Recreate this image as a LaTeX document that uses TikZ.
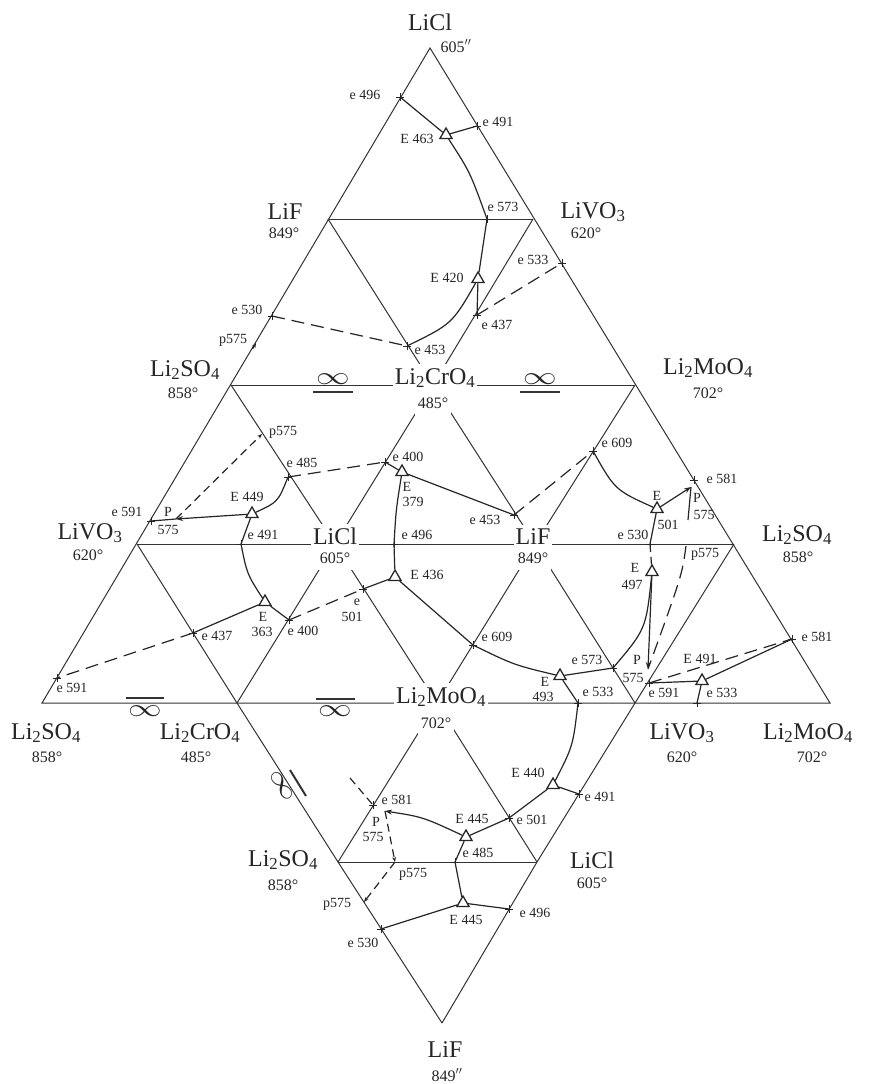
\documentclass[tikz,border=0pt]{standalone}
\usepackage{fontspec}
\setmainfont{Liberation Serif}
\usetikzlibrary{shapes.geometric,arrows.meta}
\newcommand\bigfnt{\fontsize{24}{26}\selectfont}
\newcommand\tmpfnt{\fontsize{16}{18}\selectfont}
\newcommand\smfnt{\fontsize{14}{15}\selectfont}
\newcommand\chs[1]{\textsubscript{#1}}
\begin{document}
\begin{tikzpicture}[x=1pt,y=-1pt,
  gridline/.style={line width=1pt,draw=black!80},
  phline/.style={line width=1.2pt,draw=black!85},
  dashlong/.style={phline,dash pattern=on 13pt off 7pt},
  dashshort/.style={phline,dash pattern=on 8pt off 5pt},
  ptip/.style={-{Stealth[length=7pt,width=5pt]}},
  ptips/.style={-{Stealth[length=5pt,width=4pt]}},
  Etri/.style={draw=black!85,line width=1.3pt,regular polygon,regular polygon sides=3,minimum size=14pt,inner sep=0pt},
  bigl/.style={font=\bigfnt,text=black!85,inner sep=1pt},
  templ/.style={font=\tmpfnt,text=black!85,inner sep=1pt},
  sml/.style={font=\smfnt,text=black!85,inner sep=0.5pt},
  wbgn/.style={fill=white,inner ysep=4pt,inner xsep=2pt},
  wbgt/.style={fill=white,inner ysep=7pt,inner xsep=3pt},
  infsym/.style={font=\fontsize{24}{24}\selectfont,xscale=1.35,inner sep=0pt,text=black!85},
  infbar/.style={line width=2pt,draw=black!80},
  ecross/.pic={\draw[line width=0.9pt,black!85] (-4,0)--(4,0) (0,-4)--(0,4);}
]
\fill[white] (0,0) rectangle (870,1084);
\useasboundingbox (0,0) rectangle (870,1084);

% lattice vertices
\coordinate (A0) at (430,48);
\coordinate (B1) at (328,219); \coordinate (B2) at (533,219);
\coordinate (C1) at (231,385); \coordinate (C2) at (433,385); \coordinate (C3) at (635,385);
\coordinate (D1) at (137,544); \coordinate (D2) at (335,544); \coordinate (D3) at (535,544); \coordinate (D4) at (734,544);
\coordinate (F1) at (42,703); \coordinate (F2) at (237,703); \coordinate (F3) at (437,703); \coordinate (F4) at (635,703); \coordinate (F5) at (830,703);
\coordinate (G1) at (338,862); \coordinate (G2) at (537,862);
\coordinate (H) at (442,1023);

% grid
\draw[gridline] (A0) -- (F1) -- (F5) -- cycle;
\draw[gridline] (B1) -- (B2);
\draw[gridline] (C1) -- (C3);
\draw[gridline] (D1) -- (D4);
\draw[gridline] (G1) -- (G2);
\draw[gridline] (B1) -- (C2) -- (B2);
\draw[gridline] (C1) -- (D2) -- (F3);
\draw[gridline] (C2) -- (D2) -- (F2);
\draw[gridline] (C2) -- (D3) -- (F4);
\draw[gridline] (C3) -- (D3) -- (F3);
\draw[gridline] (D1) -- (F2) -- (G1) -- (H);
\draw[gridline] (D4) -- (F4) -- (G2) -- (H);
\draw[gridline] (F3) -- (G1);
\draw[gridline] (F3) -- (G2);

% immiscibility signs
\node[infsym] (inf1) at (333,379) {$\infty$};
\draw[infbar] (313,392) -- (353,392);
\node[infsym] (inf2) at (540,379) {$\infty$};
\draw[infbar] (520,392) -- (560,392);
\node[infsym] (inf3) at (145,711) {$\infty$};
\draw[infbar] (126,698) -- (164,698);
\node[infsym] (inf4) at (335,711) {$\infty$};
\draw[infbar] (316,699) -- (355,699);
\node[rotate=-57.6,infsym] (inf5) at (282,786) {$\infty$};
\draw[infbar] (290,770) -- (306,796);

% points
\coordinate (eA496) at (400,97);
\coordinate (eA491) at (477,126);
\coordinate (eA573) at (487,219);
\coordinate (eB437) at (477,315);
\coordinate (eB533) at (562,263);
\coordinate (eB530) at (272,316);
\coordinate (eB453) at (407,346);
\coordinate (pB575) at (256,343);
\coordinate (pC575) at (262,434);
\coordinate (eC485) at (288,477);
\coordinate (eC400) at (385,462);
\coordinate (eC591) at (151,521);
\coordinate (PC575) at (176,519);
\coordinate (eC491) at (241,544);
\coordinate (eC496) at (394,544);
\coordinate (eC453) at (514,515);
\coordinate (eC609) at (593,451);
\coordinate (eC581) at (694,480);
\coordinate (PCup) at (691,487);
\coordinate (pDs) at (688,520);
\coordinate (pD575) at (686,546);
\coordinate (eD530) at (650,544);
\coordinate (PDlow) at (648,669);
\coordinate (eD573) at (613,668);
\coordinate (eD591) at (649,683);
\coordinate (eD533a) at (578,703);
\coordinate (eD533b) at (697,703);
\coordinate (eD581) at (792,639);
\coordinate (eD437) at (193,633);
\coordinate (eD591L) at (57,678);
\coordinate (eD400) at (289,620);
\coordinate (eD501) at (363,589);
\coordinate (eD609) at (473,645);
\coordinate (eE581) at (373,805);
\coordinate (PE575) at (385,811);
\coordinate (fE) at (350,778);
\coordinate (pE575a) at (395,862);
\coordinate (pE575b) at (364,902);
\coordinate (eE501) at (509,818);
\coordinate (eE491) at (579,794);
\coordinate (eE485) at (455,862);
\coordinate (eE496) at (509,909);
\coordinate (eE530) at (381,929);

% ternary points
\node[Etri] (E463) at (446,135) {};
\node[Etri] (E420) at (478,279) {};
\node[Etri] (E449) at (252,514) {};
\node[Etri] (E379) at (402,472) {};
\node[Etri] (E436) at (395,577) {};
\node[Etri] (E501) at (657,509) {};
\node[Etri] (E497) at (652,572) {};
\node[Etri] (E363) at (265,602) {};
\node[Etri] (E493) at (560,676) {};
\node[Etri] (E491) at (702,681) {};
\node[Etri] (E440) at (553,785) {};
\node[Etri] (E445a) at (466,837) {};
\node[Etri] (E445b) at (463,903) {};

% connectors
\draw[phline] (eA496) -- (E463);
\draw[phline] (E463) -- (eA491);
\draw[phline] (E463) .. controls (470,172) .. (eA573);
\draw[phline] (eA573) -- (E420);
\draw[phline] (E420) -- (eB437);
\draw[phline] (E420) .. controls (452,324) .. (eB453);
\draw[dashlong] (eB530) -- (eB453);
\draw[dashlong] (eB437) -- (eB533);
\draw[phline] (eC591) -- (PC575);
\draw[phline,ptip] (E449) -- (PC575);
\draw[dashshort,ptips] (PC575) -- (pC575);
\draw[phline] (E449) .. controls (278,502) .. (eC485);
\draw[phline] (E449) -- (eC491);
\draw[dashlong] (eC485) -- (eC400);
\draw[phline] (eC400) -- (E379);
\draw[phline] (E379) -- (eC453);
\draw[phline] (E379) .. controls (396,510) .. (eC496);
\draw[phline] (eC496) -- (E436);
\draw[dashlong] (eC453) -- (eC609);
\draw[phline] (eC609) .. controls (615,490) .. (E501);
\draw[phline,ptip] (E501) -- (PCup);
\draw[phline] (PCup) -- (pDs);
\draw[dashlong] (pD575) .. controls (682,575) .. (PDlow);
\draw[phline] (E501) -- (eD530);
\draw[dashshort] (eD530) -- (E497);
\draw[phline,ptip] (E497) -- (PDlow);
\draw[phline] (E497) .. controls (646,629) .. (eD573);
\draw[phline] (eD573) -- (E493);
\draw[phline] (E493) -- (eD533a);
\draw[phline] (eD533a) .. controls (573,746) .. (E440);
\draw[phline] (E436) -- (eD609);
\draw[phline] (eD609) .. controls (514,665) .. (E493);
\draw[phline] (eD501) -- (E436);
\draw[dashlong] (eD400) -- (eD501);
\draw[phline] (E363) -- (eD400);
\draw[phline] (E363) -- (eD437);
\draw[dashlong] (eD437) -- (eD591L);
\draw[phline] (eC491) .. controls (247,574) .. (E363);
\draw[phline] (eD591) -- (E491);
\draw[phline] (E491) -- (eD581);
\draw[dashlong] (eD591) -- (eD581);
\draw[phline] (E491) -- (eD533b);
\draw[dashshort] (fE) -- (eE581);
\draw[phline,ptip] (E445a) .. controls (423,817) .. (PE575);
\draw[dashshort,ptips] (PE575) -- (pE575a);
\draw[dashshort,ptips] (pE575a) -- (pE575b);
\draw[phline] (E445a) -- (eE501);
\draw[phline] (eE501) -- (E440);
\draw[phline] (E440) -- (eE491);
\draw[phline] (E445a) -- (eE485);
\draw[phline] (eE485) -- (E445b);
\draw[phline] (E445b) -- (eE496);
\draw[phline] (E445b) -- (eE530);
\path (pB575) ++(-3.5,6) coordinate (pBtail);
\draw[phline,ptips] (pBtail) -- (pB575);

% crosses at binary points
\foreach \p in {eA496,eA491,eA573,eB437,eB533,eB530,eB453,eC485,eC400,eC591,eC491,eC496,eC453,eC609,eC581,eD530,eD573,eD591,eD533a,eD533b,eD581,eD437,eD591L,eD400,eD501,eD609,eE581,eE501,eE491,eE485,eE496,eE530}
  \pic at (\p) {ecross};

% component labels
\node[bigl] (nA0) at (430,22) {LiCl};
\node[templ] (tA0) at (456,46) {605$''$};
\node[bigl] (nB1) at (285,212) {LiF};
\node[templ] (tB1) at (284,233) {849°};
\node[bigl] (nB2) at (593,212) {LiVO\chs{3}};
\node[templ] (tB2) at (586,233) {620°};
\node[bigl] (nC1) at (185,370) {Li\chs{2}SO\chs{4}};
\node[templ] (tC1) at (183,393) {858°};
\node[templ,wbgt] (tC2) at (433,403) {485°};
\node[bigl,wbgn] (nC2) at (435,378) {Li\chs{2}CrO\chs{4}};
\node[bigl] (nC3) at (708,368) {Li\chs{2}MoO\chs{4}};
\node[templ] (tC3) at (708,393) {702°};
\node[bigl] (nD1) at (90,533) {LiVO\chs{3}};
\node[templ] (tD1) at (88,555) {620°};
\node[templ,wbgt] (tD2) at (335,558) {605°};
\node[bigl,wbgn] (nD2) at (335,536) {LiCl};
\node[templ,wbgt] (tD3) at (533,558) {849°};
\node[bigl,wbgn] (nD3) at (533,537) {LiF};
\node[bigl] (nD4) at (797,535) {Li\chs{2}SO\chs{4}};
\node[templ] (tD4) at (798,557) {858°};
\node[bigl] (nF1) at (46,733) {Li\chs{2}SO\chs{4}};
\node[templ] (tF1) at (47,757) {858°};
\node[bigl] (nF2) at (200,733) {Li\chs{2}CrO\chs{4}};
\node[templ] (tF2) at (196,757) {485°};
\node[templ,wbgt] (tF3) at (436,723) {702°};
\node[bigl,wbgn] (nF3) at (441,697) {Li\chs{2}MoO\chs{4}};
\node[bigl] (nF4) at (682,733) {LiVO\chs{3}};
\node[templ] (tF4) at (682,757) {620°};
\node[bigl] (nF5) at (808,733) {Li\chs{2}MoO\chs{4}};
\node[templ] (tF5) at (812,757) {702°};
\node[bigl] (nG1) at (283,860) {Li\chs{2}SO\chs{4}};
\node[templ] (tG1) at (283,885) {858°};
\node[bigl] (nG2) at (592,860) {LiCl};
\node[templ] (tG2) at (592,883) {605°};
\node[bigl] (nH) at (445,1050) {LiF};
\node[templ] (tH) at (447,1075) {849$''$};

% point labels
\node[sml] (l01) at (365,95) {e 496};
\node[sml] (l02) at (498,122) {e 491};
\node[sml] (l03) at (417,139) {E 463};
\node[sml] (l04) at (503,207) {e 573};
\node[sml] (l05) at (447,278) {E 420};
\node[sml] (l06) at (533,260) {e 533};
\node[sml] (l07) at (497,325) {e 437};
\node[sml] (l08) at (247,310) {e 530};
\node[sml] (l09) at (233,340) {p575};
\node[sml] (l10) at (430,350) {e 453};
\node[sml] (l11) at (283,432) {p575};
\node[sml] (l12) at (302,463) {e 485};
\node[sml] (l13) at (408,457) {e 400};
\node[sml] (l14) at (407,487) {E};
\node[sml] (l15) at (413,502) {379};
\node[sml] (l16) at (127,512) {e 591};
\node[sml] (l17) at (168,512) {P};
\node[sml] (l18) at (168,530) {575};
\node[sml] (l19) at (247,497) {E 449};
\node[sml] (l20) at (263,535) {e 491};
\node[sml] (l21) at (417,535) {e 496};
\node[sml] (l22) at (427,575) {E 436};
\node[sml] (l23) at (485,520) {e 453};
\node[sml] (l24) at (617,443) {e 609};
\node[sml] (l25) at (657,496) {E};
\node[sml] (l26) at (668,525) {501};
\node[sml] (l27) at (722,479) {e 581};
\node[sml] (l28) at (697,498) {P};
\node[sml] (l29) at (704,515) {575};
\node[sml] (l30) at (633,535) {e 530};
\node[sml] (l31) at (705,554) {p575};
\node[sml] (l32) at (635,568) {E};
\node[sml] (l33) at (632,585) {497};
\node[sml] (l34) at (263,617) {E};
\node[sml] (l35) at (262,632) {363};
\node[sml] (l36) at (303,631) {e 400};
\node[sml] (l37) at (217,636) {e 437};
\node[sml] (l38) at (72,688) {e 591};
\node[sml] (l39) at (357,602) {e};
\node[sml] (l40) at (352,617) {501};
\node[sml] (l41) at (497,637) {e 609};
\node[sml] (l42) at (545,682) {E};
\node[sml] (l43) at (543,697) {493};
\node[sml] (l44) at (587,660) {e 573};
\node[sml] (l45) at (598,692) {e 533};
\node[sml] (l46) at (637,660) {P};
\node[sml] (l47) at (633,678) {575};
\node[sml] (l48) at (664,693) {e 591};
\node[sml] (l49) at (700,659) {E 491};
\node[sml] (l50) at (722,693) {e 533};
\node[sml] (l51) at (817,637) {e 581};
\node[sml] (l52) at (528,773) {E 440};
\node[sml] (l53) at (600,797) {e 491};
\node[sml] (l54) at (397,800) {e 581};
\node[sml] (l55) at (376,822) {P};
\node[sml] (l56) at (373,837) {575};
\node[sml] (l57) at (472,819) {E 445};
\node[sml] (l58) at (532,820) {e 501};
\node[sml] (l59) at (478,853) {e 485};
\node[sml] (l60) at (413,874) {p575};
\node[sml] (l61) at (337,904) {p575};
\node[sml] (l62) at (466,920) {E 445};
\node[sml] (l63) at (535,913) {e 496};
\node[sml] (l64) at (363,943) {e 530};
\end{tikzpicture}
\end{document}
